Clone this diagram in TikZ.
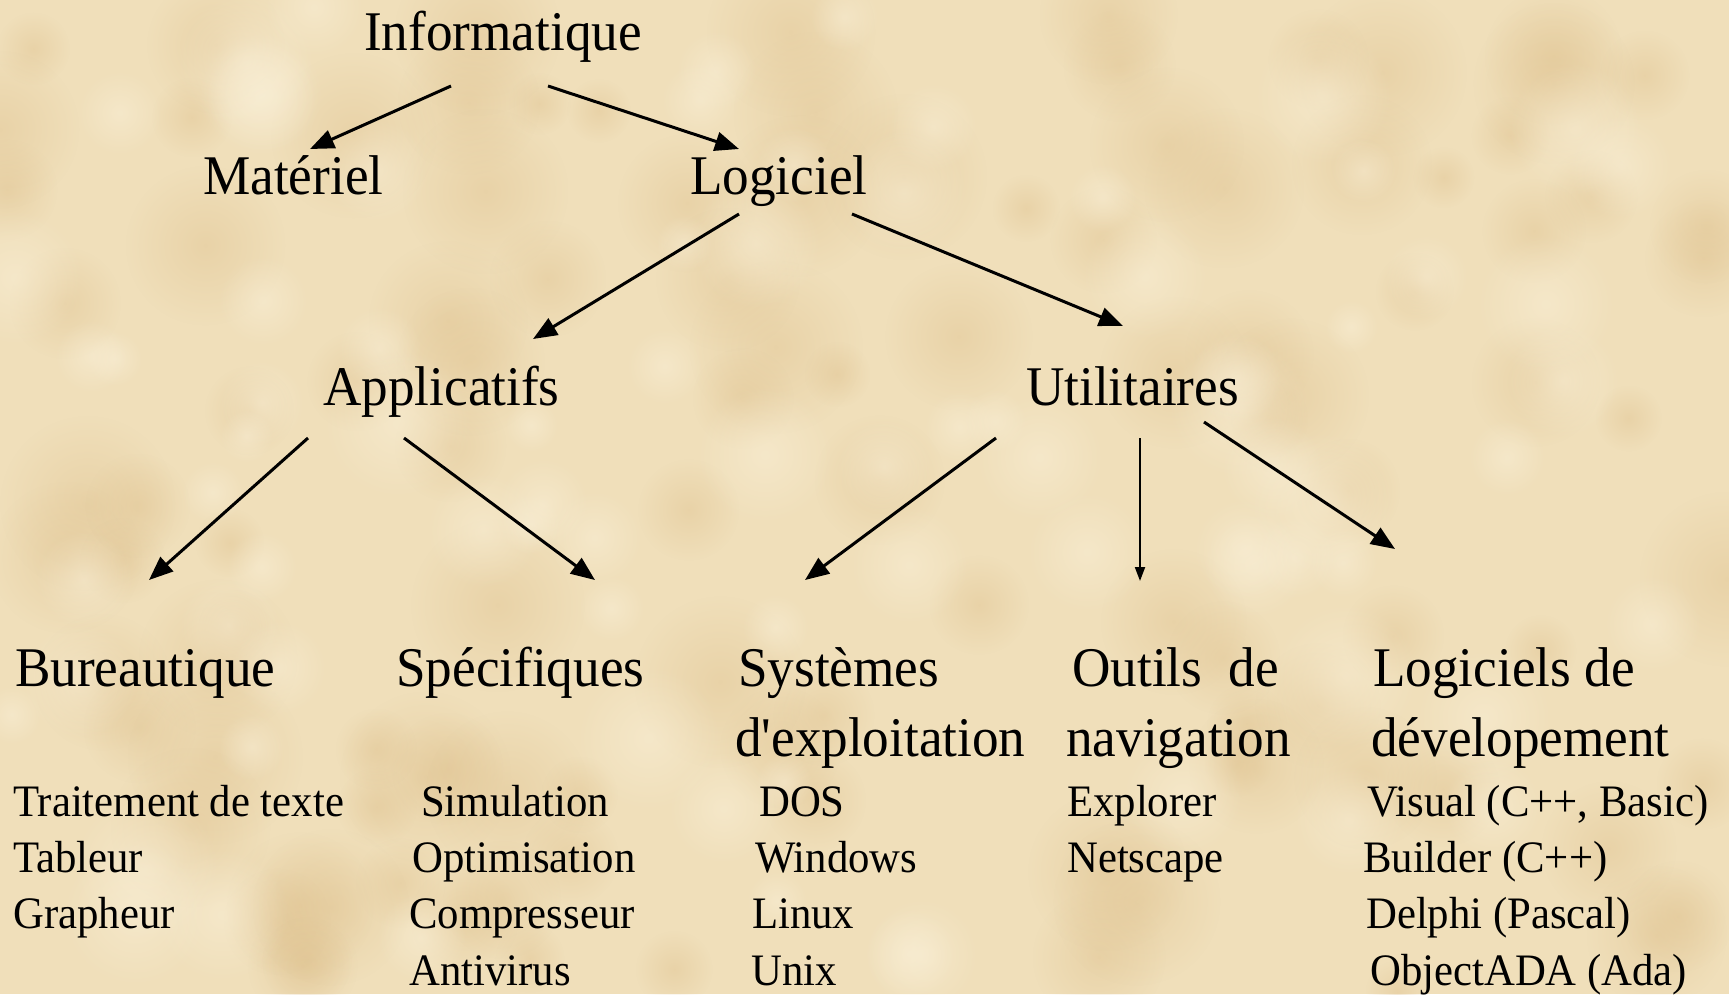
\documentclass[tikz,border=0pt]{standalone}
\usepackage{fontspec}
\setmainfont[FakeStretch=0.95, Ligatures=TeXOff]{Liberation Serif}
\usetikzlibrary{arrows.meta,fadings}
\definecolor{parch}{RGB}{240,223,186}
\definecolor{parchdark}{RGB}{222,192,140}
\definecolor{parchlight}{RGB}{250,240,216}
\tikzfading[name=softspot, inner color=transparent!0, outer color=transparent!100]
\tikzset{
  head/.style={anchor=base west, inner sep=0pt, font=\fontsize{56}{60}\selectfont},
  item/.style={anchor=base west, inner sep=0pt, font=\fontsize{45}{50}\selectfont},
  link/.style={line width=3pt, -{Triangle[length=24pt,width=19pt]}},
  thinlink/.style={line width=2pt, -{Triangle[length=14pt,width=10pt]}}
}
\begin{document}
\begin{tikzpicture}[x=1pt,y=-1pt]
  % paper background with soft mottling
  \fill[parch] (0,0) rectangle (1729,994);
  \useasboundingbox (0,0) rectangle (1729,994);
  \pgfmathsetseed{7}
  \foreach \i in {1,...,110}{
    \pgfmathsetmacro{\px}{rnd*1729}
    \pgfmathsetmacro{\py}{rnd*994}
    \pgfmathsetmacro{\pr}{30+rnd*60}
    \fill[parchdark, path fading=softspot, opacity=0.4] (\px,\py) circle[radius=\pr];
  }
  \foreach \i in {1,...,80}{
    \pgfmathsetmacro{\px}{rnd*1729}
    \pgfmathsetmacro{\py}{rnd*994}
    \pgfmathsetmacro{\pr}{25+rnd*50}
    \fill[parchlight, path fading=softspot, opacity=0.5] (\px,\py) circle[radius=\pr];
  }

  % tree headings
  \node[head] (info) at (364,50) {Informatique};
  \node[head] (mat)  at (203,194) {Matériel};
  \node[head] (logi) at (690,194) {Logiciel};
  \node[head] (appl) at (323,405) {Applicatifs};
  \node[head] (util) at (1026,405) {Utilitaires};
  \node[head] (bur)  at (15,686) {Bureautique};
  \node[head] (spec) at (396,686) {Spécifiques};
  \node[head] (sys)  at (738,686) {Systèmes};
  \node[head] (sysb) at (735,756) {d'exploitation};
  \node[head] (out)  at (1072,686) {Outils\ \ de};
  \node[head] (outb) at (1066,756) {navigation};
  \node[head] (dev)  at (1373,686) {Logiciels de};
  \node[head] (devb) at (1371,756) {dévelopement};

  % lists
  \node[item] (b1) at (13,816) {Traitement de texte};
  \node[item] (b2) at (13,872) {Tableur};
  \node[item] (b3) at (13,928) {Grapheur};
  \node[item] (s1) at (421,816) {Simulation};
  \node[item] (s2) at (412,872) {Optimisation};
  \node[item] (s3) at (409,928) {Compresseur};
  \node[item] (s4) at (409,985) {Antivirus};
  \node[item] (o1) at (759,816) {DOS};
  \node[item] (o2) at (755,872) {Windows};
  \node[item] (o3) at (752,928) {Linux};
  \node[item] (o4) at (751,985) {Unix};
  \node[item] (n1) at (1067,816) {Explorer};
  \node[item] (n2) at (1067,872) {Netscape};
  \node[item] (d1) at (1367,816) {Visual (C++, Basic)};
  \node[item] (d2) at (1363,872) {Builder (C++)};
  \node[item] (d3) at (1366,928) {Delphi (Pascal)};
  \node[item] (d4) at (1370,985) {ObjectADA (Ada)};

  % arrow end points
  \coordinate (infoL) at (451,86);   \coordinate (matT)  at (310,149);
  \coordinate (infoR) at (548,86);   \coordinate (logiT) at (739,149);
  \coordinate (logiL) at (739,214);  \coordinate (applT) at (533,339);
  \coordinate (logiR) at (852,214);  \coordinate (utilT) at (1123,326);
  \coordinate (applL) at (308,438);  \coordinate (burT)  at (149,580);
  \coordinate (applR) at (404,438);  \coordinate (specT) at (595,580);
  \coordinate (utilL) at (996,438);  \coordinate (sysT)  at (805,580);
  \coordinate (utilM) at (1140,438); \coordinate (outT)  at (1140,581);
  \coordinate (utilR) at (1204,422); \coordinate (devT)  at (1395,549);

  % connectors
  \draw[link] (infoL) -- (matT);
  \draw[link] (infoR) -- (logiT);
  \draw[link] (logiL) -- (applT);
  \draw[link] (logiR) -- (utilT);
  \draw[link] (applL) -- (burT);
  \draw[link] (applR) -- (specT);
  \draw[link] (utilL) -- (sysT);
  \draw[thinlink] (utilM) -- (outT);
  \draw[link] (utilR) -- (devT);
\end{tikzpicture}
\end{document}
